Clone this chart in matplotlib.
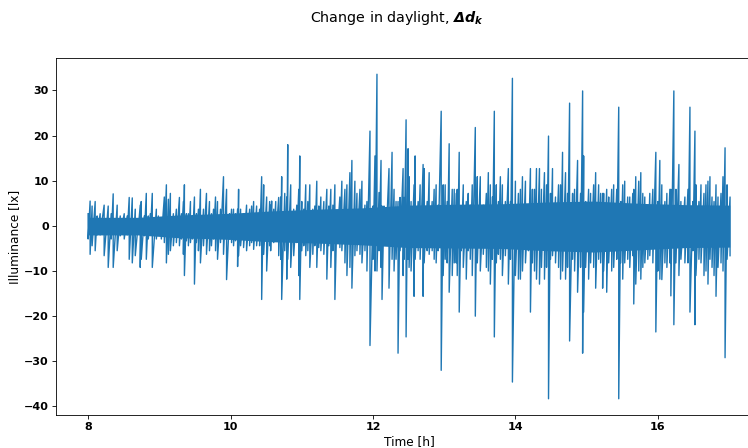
import numpy as np
import matplotlib
matplotlib.use("Agg")
import matplotlib.pyplot as plt

# sample times [h] with the upper and lower excursion seen around each one
time_h = [
    8.000, 8.028, 8.056, 8.099, 8.127, 8.169, 8.225, 8.282, 8.324, 8.352,
    8.408, 8.451, 8.507, 8.549, 8.577, 8.620, 8.662, 8.704, 8.732, 8.746,
    8.789, 8.817, 8.845, 8.873, 8.901, 8.958, 8.986, 9.028, 9.070, 9.099,
    9.127, 9.155, 9.197, 9.239, 9.282, 9.310, 9.338, 9.352, 9.380, 9.408,
    9.437, 9.465, 9.493, 9.521, 9.549, 9.577, 9.620, 9.662, 9.704, 9.732,
    9.761, 9.789, 9.817, 9.859, 9.901, 9.944, 9.986, 10.014, 10.042, 10.070,
    10.099, 10.113, 10.141, 10.183, 10.225, 10.268, 10.296, 10.324, 10.366, 10.408,
    10.437, 10.465, 10.507, 10.549, 10.563, 10.577, 10.606, 10.634, 10.676, 10.704,
    10.718, 10.761, 10.789, 10.803, 10.845, 10.887, 10.930, 10.958, 10.972, 11.000,
    11.028, 11.056, 11.085, 11.113, 11.155, 11.183, 11.211, 11.239, 11.268, 11.310,
    11.352, 11.380, 11.408, 11.437, 11.465, 11.493, 11.535, 11.563, 11.606, 11.634,
    11.676, 11.704, 11.746, 11.775, 11.817, 11.845, 11.887, 11.915, 11.958, 12.000,
    12.028, 12.056, 12.085, 12.113, 12.127, 12.155, 12.183, 12.225, 12.268, 12.296,
    12.324, 12.352, 12.380, 12.423, 12.437, 12.465, 12.493, 12.507, 12.535, 12.577,
    12.592, 12.634, 12.662, 12.704, 12.718, 12.761, 12.789, 12.831, 12.859, 12.887,
    12.915, 12.958, 12.986, 13.014, 13.042, 13.070, 13.113, 13.141, 13.169, 13.183,
    13.211, 13.239, 13.268, 13.310, 13.338, 13.366, 13.394, 13.437, 13.465, 13.507,
    13.549, 13.592, 13.620, 13.648, 13.676, 13.704, 13.732, 13.761, 13.789, 13.817,
    13.859, 13.901, 13.930, 13.958, 14.000, 14.042, 14.070, 14.099, 14.141, 14.183,
    14.211, 14.239, 14.268, 14.296, 14.338, 14.366, 14.408, 14.437, 14.465, 14.493,
    14.521, 14.563, 14.606, 14.634, 14.662, 14.704, 14.732, 14.761, 14.803, 14.831,
    14.873, 14.915, 14.944, 14.958, 14.986, 15.028, 15.056, 15.099, 15.127, 15.169,
    15.197, 15.225, 15.239, 15.282, 15.310, 15.352, 15.380, 15.423, 15.451, 15.479,
    15.507, 15.535, 15.577, 15.606, 15.648, 15.662, 15.690, 15.732, 15.761, 15.789,
    15.817, 15.859, 15.887, 15.930, 15.972, 16.000, 16.028, 16.056, 16.099, 16.127,
    16.169, 16.183, 16.225, 16.254, 16.296, 16.324, 16.380, 16.423, 16.451, 16.493,
    16.521, 16.535, 16.577, 16.606, 16.648, 16.676, 16.704, 16.732, 16.761, 16.789,
    16.817, 16.845, 16.887, 16.915, 16.944, 16.972, 17.014,
]

upper = [
    2.7, 5.5, 4.4, 5.4, 2.2, 2.7, 4.6, 4.4, 2.7, 7.1,
    4.6, 2.2, 2.7, 2.2, 6.3, 6.2, 3.7, 0.6, 4.6, 5.4,
    2.2, 7.2, 2.2, 2.7, 7.2, 3.7, 2.2, 1.8, 6.4, 9.1,
    5.9, 7.2, 2.7, 3.7, 6.3, 2.7, 5.4, 9.1, 2.7, 2.7,
    5.4, 2.2, 6.4, 2.7, 3.7, 8.1, 3.7, 7.2, 5.4, 2.7,
    3.7, 6.4, 5.4, 3.7, 10.9, 8.1, 2.7, 3.7, 3.7, 2.7,
    3.7, 8.1, 3.7, 2.7, 4.6, 3.7, 4.4, 5.4, 4.4, 3.7,
    10.9, 9.1, 6.4, 5.4, 4.6, 5.5, 3.7, 5.4, 6.3, 6.4,
    10.9, 7.2, 6.4, 18.0, 9.1, 3.7, 4.6, 8.1, 15.5, 5.4,
    3.7, 9.1, 5.4, 9.1, 3.7, 4.4, 9.9, 4.4, 6.4, 5.4,
    8.1, 4.4, 8.1, 4.6, 9.1, 1.8, 6.4, 9.9, 8.1, 9.1,
    11.8, 14.5, 9.9, 7.2, 8.1, 9.9, 4.6, 5.4, 21.0, 4.4,
    15.5, 33.6, 7.4, 14.5, 4.4, 4.4, 1.8, 12.7, 16.3, 8.1,
    5.4, 5.4, 6.3, 12.7, 6.3, 23.5, 17.1, 10.9, 5.4, 9.1,
    15.5, 5.4, 9.1, 13.6, 12.7, 5.4, 11.8, 5.4, 8.1, 9.1,
    4.6, 25.4, 9.1, 9.1, 5.4, 18.2, 8.1, 8.1, 7.2, 8.1,
    16.3, 3.7, 9.1, 5.4, 7.2, 4.6, 9.1, 21.8, 10.9, 10.9,
    4.6, 7.2, 11.8, 9.1, 6.4, 25.4, 9.1, 5.4, 10.9, 9.1,
    5.4, 12.7, 5.4, 32.7, 9.9, 7.2, 8.1, 10.9, 9.9, 4.6,
    12.7, 8.1, 8.1, 12.7, 12.7, 8.1, 11.8, 9.1, 19.9, 7.2,
    12.7, 6.4, 9.1, 9.1, 16.3, 11.8, 7.2, 27.2, 7.2, 8.1,
    14.5, 7.2, 29.9, 15.5, 5.4, 8.1, 7.2, 9.1, 11.8, 9.1,
    7.2, 7.2, 7.2, 8.1, 6.4, 8.1, 9.1, 8.1, 26.3, 5.4,
    9.1, 9.9, 6.4, 6.4, 7.2, 8.1, 10.9, 9.9, 11.8, 7.2,
    6.4, 3.7, 7.2, 8.1, 16.3, 5.4, 14.5, 9.1, 5.4, 7.2,
    8.1, 8.1, 29.9, 8.1, 13.6, 5.4, 6.4, 8.1, 26.3, 5.4,
    21.0, 9.1, 5.4, 9.1, 7.2, 9.1, 9.9, 10.9, 6.4, 5.4,
    9.1, 6.4, 7.2, 10.9, 17.3, 9.1, 6.4,
]

lower = [
    -2.9, -6.3, -4.4, -5.5, -2.0, -2.0, -6.6, -9.2, -2.9, -9.2,
    -5.5, -2.2, -2.9, -2.0, -7.4, -8.2, -6.6, -0.6, -9.2, -7.4,
    -2.2, -7.4, -2.9, -2.0, -9.2, -2.9, -2.0, -2.9, -3.7, -8.2,
    -6.3, -5.5, -4.4, -3.7, -4.4, -2.9, -6.3, -11.0, -3.3, -4.4,
    -3.7, -2.9, -12.9, -3.7, -5.5, -8.2, -4.4, -6.3, -5.5, -4.4,
    -2.9, -5.5, -7.4, -3.7, -6.3, -11.9, -2.9, -3.7, -4.4, -3.3,
    -9.0, -6.6, -4.4, -4.8, -5.5, -4.4, -3.7, -5.2, -4.4, -4.4,
    -16.3, -6.3, -10.0, -4.4, -5.5, -2.9, -3.7, -3.3, -6.6, -7.4,
    -16.3, -5.5, -11.8, -7.4, -9.2, -6.6, -3.7, -11.0, -16.3, -5.5,
    -4.4, -6.6, -5.5, -9.2, -6.3, -4.4, -9.2, -4.8, -5.5, -6.3,
    -11.8, -4.4, -9.2, -5.5, -16.3, -3.7, -4.8, -5.5, -8.2, -11.0,
    -9.2, -13.8, -6.6, -5.5, -6.3, -8.2, -5.5, -10.0, -26.5, -7.4,
    -10.0, -10.0, -5.5, -9.2, -16.3, -2.9, -3.7, -13.8, -7.4, -10.0,
    -7.4, -28.2, -5.5, -11.0, -7.4, -24.6, -7.4, -9.2, -10.0, -15.6,
    -7.4, -5.5, -7.4, -15.6, -8.2, -5.5, -6.3, -5.5, -7.4, -8.2,
    -5.5, -32.0, -11.0, -7.4, -8.2, -14.7, -11.0, -8.2, -8.2, -11.0,
    -19.1, -5.5, -9.2, -11.8, -5.5, -7.4, -11.0, -20.0, -8.2, -10.0,
    -6.3, -9.2, -10.0, -12.9, -7.4, -24.6, -8.2, -6.3, -7.4, -11.0,
    -6.6, -12.9, -7.4, -34.6, -11.0, -11.8, -11.8, -10.0, -8.2, -5.5,
    -19.1, -8.2, -10.0, -11.8, -12.9, -9.2, -11.8, -9.2, -38.3, -7.4,
    -6.6, -8.2, -9.2, -11.8, -10.0, -11.8, -9.2, -25.5, -7.4, -10.0,
    -14.7, -9.2, -28.2, -19.1, -9.2, -11.8, -8.2, -9.2, -13.8, -7.4,
    -8.2, -13.8, -10.0, -14.7, -8.2, -10.0, -9.2, -7.4, -38.3, -8.2,
    -11.8, -8.2, -7.4, -9.2, -6.6, -17.3, -12.9, -10.0, -11.8, -9.2,
    -8.2, -7.4, -6.6, -8.2, -23.5, -10.0, -11.8, -11.9, -8.2, -9.2,
    -8.2, -15.5, -21.9, -8.2, -11.0, -7.4, -8.2, -8.2, -19.1, -5.5,
    -21.9, -11.0, -7.4, -8.2, -11.0, -10.0, -12.9, -7.4, -9.2, -11.0,
    -15.6, -9.2, -8.2, -10.0, -29.2, -7.4, -6.6,
]

# dense core of the signal (where the samples overlap into a solid band)
core_t = [8.00, 8.70, 9.25, 10.00, 10.55, 11.20, 11.85, 12.50, 13.15, 13.80, 14.45, 15.10, 15.75, 16.40, 17.01]
core_hi = [1.9, 1.9, 2.4, 2.8, 3.3, 3.7, 4.0, 4.6, 4.8, 4.9, 5.3, 5.5, 5.0, 4.7, 4.6]
core_lo = [-2.0, -2.0, -2.6, -3.0, -3.5, -3.8, -4.2, -4.8, -4.9, -5.0, -5.5, -5.8, -5.3, -4.8, -4.7]

t = np.repeat(time_h, 2)
delta_d = np.column_stack((upper, lower)).ravel()

fig = plt.figure(figsize=(7.48, 4.48), dpi=100)
ax = fig.add_axes([0.0749, 0.0737, 0.944, 0.7968])
ax.fill_between(core_t, core_lo, core_hi, color='#1f77b4', linewidth=0)
ax.plot(t, delta_d, color='#1f77b4', linewidth=1.0)

fig.suptitle(r'Change in daylight, $\mathbfit{\Delta d_k}$', fontsize=10.3, x=0.531, y=0.96, va='center')
ax.set_xlabel('Time [h]', fontsize=8.7, labelpad=2)
ax.set_ylabel('Illuminance [lx]', fontsize=8.7, labelpad=2)
ax.set_xticks([8, 10, 12, 14, 16])
ax.set_yticks([-40, -30, -20, -10, 0, 10, 20, 30])
ax.tick_params(labelsize=8, length=2.6, width=0.6, pad=2.5)
for lab in ax.get_xticklabels() + ax.get_yticklabels():
    lab.set_fontweight('bold')
for sp in ax.spines.values():
    sp.set_linewidth(0.6)

plt.savefig('out.png', dpi=100)
